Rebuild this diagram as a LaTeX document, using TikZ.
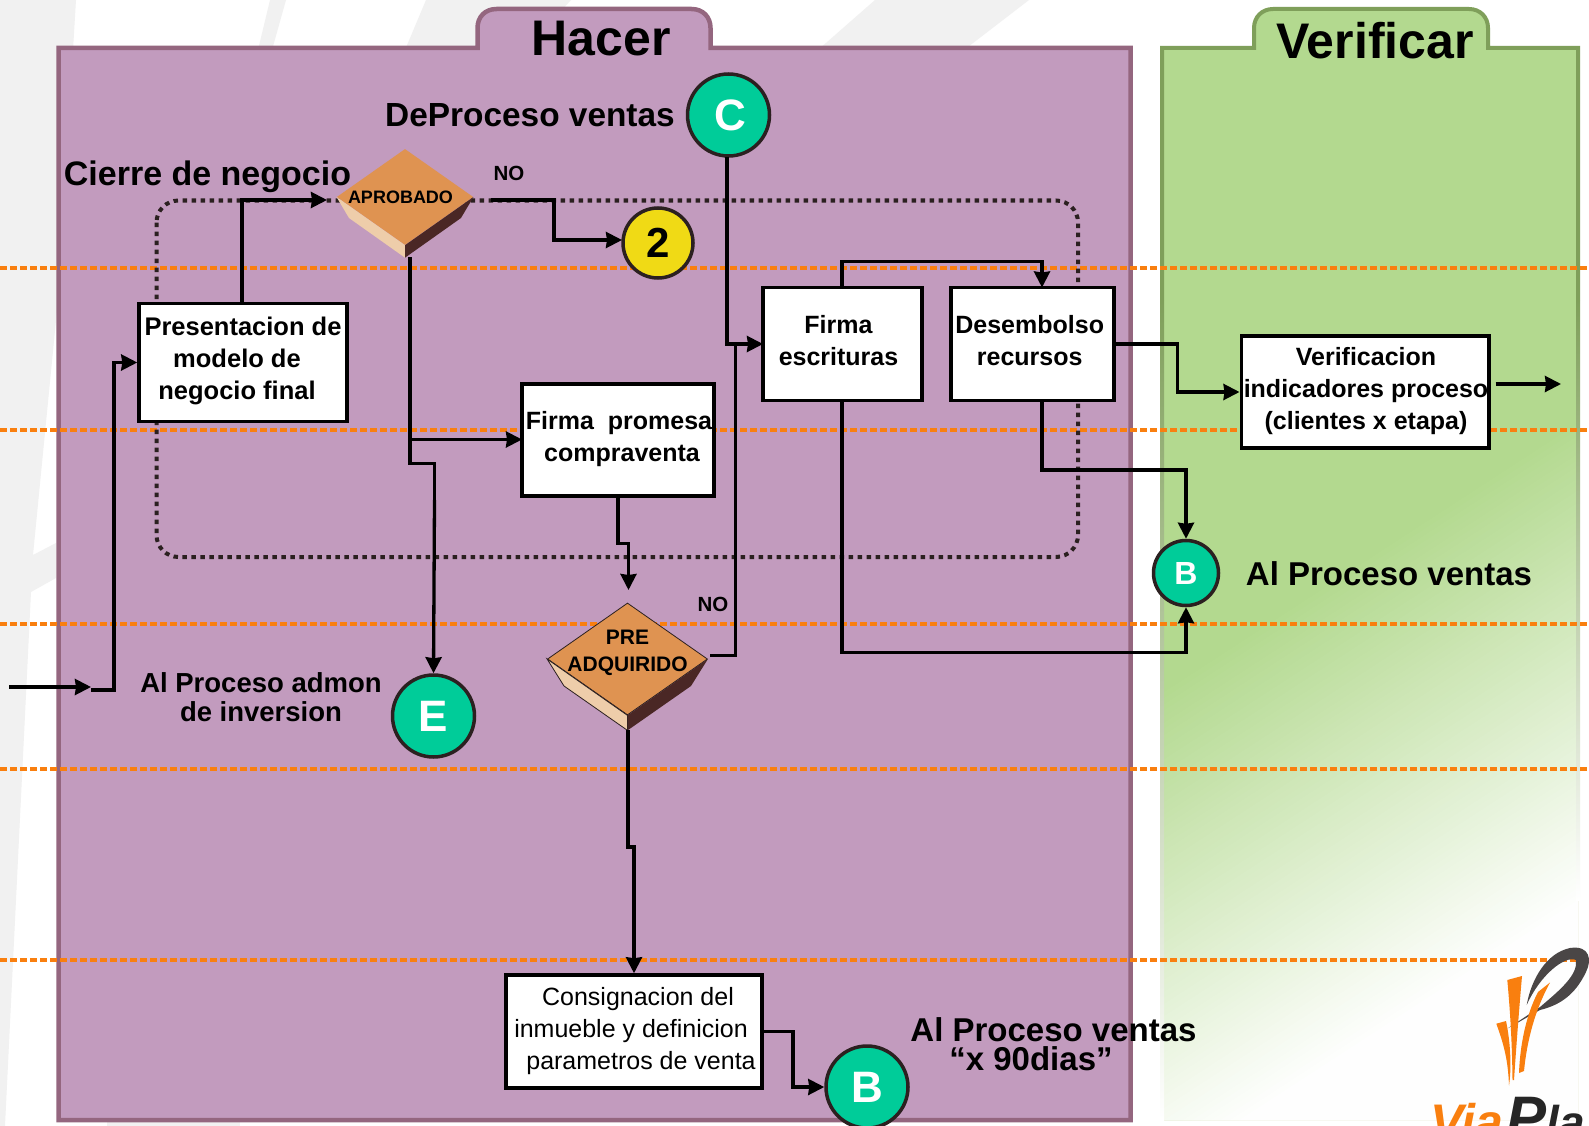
\documentclass[tikz,border=0pt]{standalone}
\usepackage{fontspec}
\setmainfont{Liberation Sans}
\usetikzlibrary{arrows.meta,shapes.geometric,calc}
\definecolor{purp}{HTML}{C29BBE}
\definecolor{purpb}{HTML}{94667F}
\definecolor{grn}{HTML}{B3D98F}
\definecolor{grnb}{HTML}{7F9F5A}
\definecolor{oran}{HTML}{F97F0F}
\definecolor{bgg}{HTML}{F1F1F1}
\definecolor{teal}{HTML}{00CC99}
\definecolor{ringc}{HTML}{2B2020}
\definecolor{yel}{HTML}{F0DA15}
\definecolor{dmain}{HTML}{DF9351}
\definecolor{dlite}{HTML}{EECDAA}
\definecolor{ddark}{HTML}{4A2725}
\definecolor{logod}{HTML}{4A4646}
\newcommand{\fs}[2]{\fontsize{#1}{#2}\selectfont}
% text inside a node: zero-size block, offset dx (doubled shift), dy, font, rows
\newcommand{\bt}[4]{\makebox[0pt]{\hspace*{#1pt}\raisebox{#2pt}[0pt][0pt]{#3\begin{tabular}{@{}c@{}}#4\end{tabular}}}}
\tikzset{
  x=1pt,y=-1pt,
  boxn/.style={draw=black,line width=3.5pt,fill=white,inner sep=0pt,rectangle},
  conn/.style={line width=3.3pt,black,line join=miter},
  arr/.style={conn,-{Stealth[length=16pt,width=16pt,inset=1pt]}},
  disc/.style={circle,draw=ringc,line width=3.5pt,inner sep=0pt,font=\bfseries},
  lbl/.style={inner sep=0pt,align=center,font=\bfseries},
  orline/.style={oran,line width=3.5pt,dash pattern=on 7pt off 3pt},
  dec/.style={diamond,fill=dmain,inner sep=0pt,font=\bfseries},
}
\begin{document}
\begin{tikzpicture}
\useasboundingbox (0,0) rectangle (1589,1126);
% background bands
\fill[white] (0,0) rectangle (1589,1126);
\fill[bgg] (0,0) -- (76,0) -- (58,300) -- (33,555) -- (56,543) -- (56,578) -- (31,592) -- (5,1126) -- (0,1126) -- cycle;
\fill[bgg] (270,0) -- (286,0) -- (272,50) -- (258,50) -- cycle;
\fill[bgg] (426,0) -- (571,0) -- (560,12) -- (480,50) -- (405,50) -- cycle;
\fill[bgg] (875,0) -- (1029,0) -- (964,50) -- (818,50) -- cycle;
\fill[bgg] (107,1120) rectangle (240,1126);
% Hacer panel
\filldraw[fill=purp,draw=purpb,line width=4.5pt,line join=miter]
  (58.5,48) -- (477.5,48) -- (477.5,28) .. controls (477.5,17) and (485,9) .. (496.5,9) -- (691.5,9)
  .. controls (703,9) and (710.5,17) .. (710.5,28) -- (710.5,48) -- (1130.5,48) -- (1130.5,1120) -- (58.5,1120) -- cycle;
% Verificar panel
\begin{scope}
  \clip (1162,48) -- (1254,48) -- (1254,28) .. controls (1254,17) and (1262,9) .. (1273,9) -- (1469,9)
    .. controls (1480,9) and (1488,17) .. (1488,28) -- (1488,48) -- (1578,48) -- (1578,1120) -- (1162,1120) -- cycle;
  \fill[grn] (1140,0) rectangle (1589,1126);
  \foreach \i in {0,...,79}{
    \pgfmathsetmacro{\ss}{\i/80*410}
    \pgfmathsetmacro{\pc}{100*(1-\i/80)}
    \fill[grn!\pc!white]
      ({1370+.545*\ss-800*.839},{552+.839*\ss+800*.545}) --
      ({1370+.545*\ss+800*.839},{552+.839*\ss-800*.545}) --
      ({1370+.545*(\ss+800)+800*.839},{552+.839*(\ss+800)-800*.545}) --
      ({1370+.545*(\ss+800)-800*.839},{552+.839*(\ss+800)+800*.545}) -- cycle;
  }
\end{scope}
\draw[grnb,line width=4pt,line join=miter]
  (1162,300) -- (1162,48) -- (1254,48) -- (1254,28) .. controls (1254,17) and (1262,9) .. (1273,9) -- (1469,9)
    .. controls (1480,9) and (1488,17) .. (1488,28) -- (1488,48) -- (1578,48) -- (1578,300);
\shade[top color=grnb,bottom color=white] (1160,300) rectangle (1164,1120);
\shade[top color=grnb,bottom color=white] (1576,300) rectangle (1580,900);
% swimlane rules
\foreach \yy in {268,430,624,769,960}
  \draw[orline] (0,\yy) -- (1589,\yy);
% dotted group
\draw[draw=ringc,line width=4pt,dash pattern=on 4.5pt off 4.5pt,rounded corners=22pt]
  (156.5,200.5) rectangle (1078,557);
% titles
\node[lbl,font=\bfseries\fs{50}{50}] (thacer) at (601,39) {Hacer};
\node[lbl,font=\bfseries\fs{50}{50}] (tverif) at (1375,41) {Verificar};
\node[lbl,font=\bfseries\fs{33.4}{34}] (tdep) at (530,115) {DeProceso ventas};
\node[lbl,font=\bfseries\fs{34}{34}] (tcierre) at (207.5,177) {Cierre de negocio};
\node[lbl,font=\bfseries\fs{20.5}{22}] (tno1) at (509,173) {NO};
\node[lbl,font=\bfseries\fs{20.5}{22}] (tno2) at (713,604) {NO};
\node[lbl,font=\bfseries\fs{27.5}{28.5}] (tadmon) at (261,697) {Al Proceso admon\\de inversion};
\node[lbl,font=\bfseries\fs{33}{33}] (tal1) at (1389,574) {Al Proceso ventas};
\node[lbl,font=\bfseries\fs{33}{29}] (tal2) at (1053.5,1044) {Al Proceso ventas\\“x 90dias”\hspace*{45pt}};
% boxes
\node[boxn,minimum width=208pt,minimum height=118pt] (pres) at (243,362.5)
  {\bt{0}{-5}{\bfseries\fs{25.5}{32}}{Presentacion de\\\hspace*{-12pt}modelo de\\\hspace*{-12pt}negocio final}};
\node[boxn,minimum width=192pt,minimum height=112pt] (prom) at (618,440)
  {\bt{2}{-5}{\bfseries\fs{25}{32}}{Firma\ \ promesa\\\hspace*{6pt}compraventa}};
\node[boxn,minimum width=159pt,minimum height=113pt] (firma) at (842.5,344)
  {\bt{-8}{-5}{\bfseries\fs{25}{32}}{Firma\\escrituras}};
\node[boxn,minimum width=163pt,minimum height=113pt] (desem) at (1032.7,344)
  {\bt{-6}{-5}{\bfseries\fs{25}{32}}{Desembolso\\recursos}};
\node[boxn,minimum width=247.5pt,minimum height=112pt] (verif) at (1365,392)
  {\bt{2}{-5.5}{\bfseries\fs{25}{32}}{Verificacion\\indicadores proceso\\(clientes x etapa)}};
\node[boxn,minimum width=256pt,minimum height=113pt] (consig) at (634,1031.5)
  {\bt{0}{-6}{\fs{25}{32}}{\hspace*{8pt}Consignacion del\\\hspace*{-6pt}inmueble y definicion\\\hspace*{14pt}parametros de venta}};
% decisions
\node[dec,shape aspect=1.417,minimum width=136.5pt,minimum height=96pt] (apro) at (405,197)
  {\bt{-9}{-7}{\fs{18}{20}}{APROBADO}};
\fill[dlite] (apro.west) -- (apro.south) -- ++(0,12.5) -- (349,218) -- cycle;
\fill[ddark] (apro.east) -- (apro.south) -- ++(0,12.5) -- (461,218) -- cycle;
\node[dec,draw=ringc,line width=0.8pt,shape aspect=1.43,minimum width=160pt,minimum height=112pt] (pre) at (627.5,659)
  {\bt{0}{1}{\fs{21}{27}}{PRE\\ADQUIRIDO}};
\filldraw[fill=dlite,draw=ringc,line width=0.8pt] (pre.west) -- (pre.south) -- ++(0,15) -- (564,686) -- cycle;
\fill[ddark] (pre.east) -- (pre.south) -- ++(0,15) -- (691,686) -- cycle;
% discs
\node[disc,fill=teal,minimum size=82pt,text=white,font=\bfseries\fs{44}{44}] (cc) at (728.5,115) {\hspace*{3pt}C};
\node[disc,fill=yel,minimum size=70pt,font=\bfseries\fs{42}{42}] (two) at (658,243) {2};
\node[disc,fill=teal,minimum size=82pt,text=white,font=\bfseries\fs{44}{44}] (ee) at (433.5,716) {E};
\node[disc,fill=teal,minimum size=65pt,text=white,font=\bfseries\fs{32}{32}] (bb) at (1186,573) {B};
\node[disc,fill=teal,minimum size=82pt,text=white,font=\bfseries\fs{44}{44}] (bc) at (867,1087) {B};
% connectors
\coordinate (inS) at (9,687);
\coordinate (inE) at (91,687);
\coordinate (inF) at (91,690);
\coordinate (aproT) at (410,257);
\coordinate (preT) at (628,730);
\coordinate (outS) at (1495.5,384);
\coordinate (outE) at (1561,384);
\draw[arr] (inS) -- (inE);
\draw[arr] (inF) -- (114,690) -- (114,362.5) -- (pres.west);
\draw[arr,shorten >=10pt] (242,303) -- (242,200) -- (337,200);
\draw[arr,shorten <=17pt] (473.5,200) -- (554,200) -- (554,240) -- (622,240);
\draw[conn] (aproT) -- (410,463.5) -- (434.5,463.5) -- (434.5,500);
\draw[arr] (434.5,500) -- (ee.north);
\draw[arr] (410,439.5) -- (522,439.5);
\draw[arr,shorten >=13pt] (618,496) -- (618,543.5) -- (628.5,543.5) -- (628.5,603);
\draw[arr] (preT) -- (628,847) -- (634,847) -- (consig.north);
\draw[conn] (710,655.5) -- (735.5,655.5) -- (735.5,344);
\draw[arr] (727,157) -- (727,344) -- (763,344);
\draw[arr] (842,287.5) -- (842,261.5) -- (1042,261.5) -- (1042,287.5);
\draw[arr] (842,400.5) -- (842,652.8) -- (1186,652.8) -- (bb.south);
\draw[arr] (1042,400.5) -- (1042,470) -- (1186,470) -- (bb.north);
\draw[arr] (desem.east|-0,344) -- (1177.5,344) -- (1177.5,392) -- (verif.west);
\draw[arr] (outS) -- (outE);
\draw[arr] (consig.east) -- (793,1031.5) -- (793,1087) -- (bc.west);
% logo
\fill[logod] (1526.7,1005) .. controls (1531,980) and (1546,953) .. (1570,948)
  .. controls (1590,945) and (1592,960) .. (1586,972)
  .. controls (1575,995) and (1560,1005) .. (1540,1010) -- (1507.5,1028.5)
  -- (1540,1007) .. controls (1560,990) and (1578,975) .. (1576,960)
  .. controls (1565,955) and (1540,975) .. (1526.7,1005) -- cycle;
\fill[oran] (1507.3,980) -- (1522,976) .. controls (1519,1010) and (1516,1050) .. (1514,1080)
  -- (1512.5,1080) .. controls (1512,1040) and (1510,1010) .. (1507.3,980) -- cycle;
\fill[oran] (1496.3,1023.7) -- (1506,1021) .. controls (1510,1040) and (1512,1065) .. (1509,1085.7)
  .. controls (1508,1060) and (1504,1045) .. (1496.3,1023.7) -- cycle;
\fill[oran] (1550,982.5) -- (1538,992) .. controls (1526,1015) and (1520,1045) .. (1519,1073)
  -- (1524,1071) .. controls (1527,1040) and (1535,1010) .. (1550,982.5) -- cycle;
\begin{scope}
\clip (1400,1090) rectangle (1589,1126);
\node[inner sep=0pt,anchor=base west,text=oran,font=\bfseries\itshape\fs{50}{50}] (lvia) at (1430,1139) {Via};
\node[inner sep=0pt,anchor=base west,text=black!85,font=\bfseries\itshape] (lpl) at (1506,1138) {\fs{60}{60}P\fs{46}{46}la};
\end{scope}
\end{tikzpicture}
\end{document}
